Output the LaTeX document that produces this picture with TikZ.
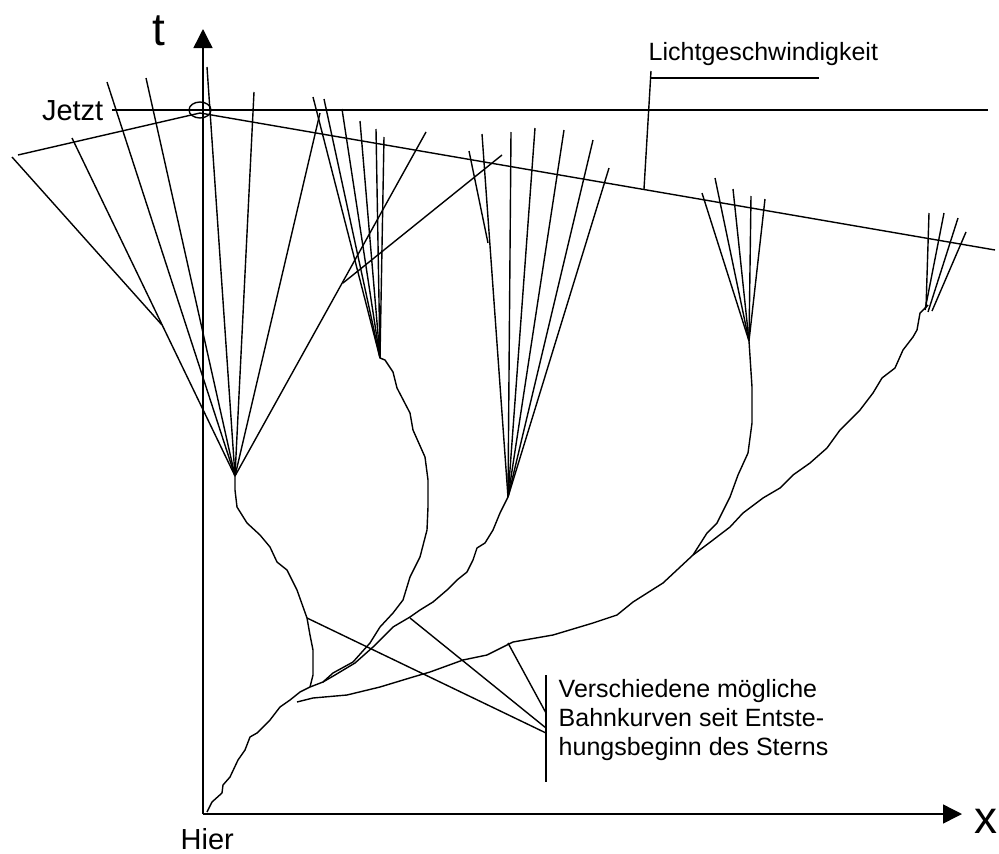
\documentclass[tikz,border=0pt]{standalone}
\usepackage{fontspec}
\setmainfont{Liberation Sans}
\usetikzlibrary{arrows.meta}
\begin{document}
\begin{tikzpicture}[x=1pt,y=-1pt,line width=1.4pt,line join=round,
  lbl/.style={font=\fontsize{25}{29}\selectfont,inner sep=0pt},
  mid/.style={font=\fontsize{29}{33}\selectfont,inner sep=0pt},
  big/.style={font=\fontsize{46}{50}\selectfont,inner sep=0pt},
  axis/.style={-{Triangle[length=19pt,width=19pt]}},
  traj/.style={line width=1.4pt},
  ray/.style={line width=1.4pt}]
\useasboundingbox (0,0) rectangle (999,854);
% axes
\coordinate (o) at (203,814);
\coordinate (ttip) at (203,29);
\coordinate (xtip) at (962,814);
\draw[axis] (o) -- (ttip);
\draw[axis] (o) -- (xtip);
\node[big,anchor=base] (tlab) at (159,45) {t};
\node[big,anchor=base] (xlab) at (986,833) {x};
\node[mid,anchor=base west] (hier) at (180,849) {Hier};
% now line
\coordinate (jl) at (112,110);
\coordinate (jr) at (988,110);
\draw (jl) -- (jr);
\node[mid,anchor=base east] (jetzt) at (104,120) {Jetzt};
\draw (200,110) ellipse [x radius=11,y radius=8];
% light cone
\coordinate (now) at (200,113);
\coordinate (cl) at (18,155);
\coordinate (cr) at (995,250);
\draw (cl) -- (now) -- (cr);
% Lichtgeschwindigkeit
\node[lbl,anchor=base west] (licht) at (648,60) {Lichtgeschwindigkeit};
\coordinate (lc1) at (651,71);
\coordinate (lc2) at (644,189);
\coordinate (lh1) at (651,78);
\coordinate (lh2) at (819,78);
\draw (lc1) -- (lc2);
\draw (lh1) -- (lh2);
% fans
\coordinate (F1) at (235,476);
\coordinate (F2) at (380,358);
\coordinate (F3) at (508,497);
\coordinate (F4) at (749,341);
\coordinate (F5) at (928,305);
\foreach \p in {(72,138),(107,82),(146,78),(207,67),(254,92),(320,113),(426,132)}
  \draw[ray] \p -- (F1);
\draw[ray] (12,157) -- (162,325);
\draw[ray] (502,155) -- (343,283);
\foreach \p in {(313,97),(324,99),(342,109),(360,121),(376,129),(384,137)}
  \draw[ray] \p -- (F2);
\foreach \p in {(482,134),(511,132),(535,128),(564,130),(593,140),(609,168)}
  \draw[ray] \p -- (F3);
\draw[ray] (469,151) -- (488,243);
\foreach \p in {(702,193),(715,178),(733,189),(751,196),(765,199)}
  \draw[ray] \p -- (F4);
\draw[ray] (929,213) -- (926,308);
\draw[ray] (944,213) -- (925,310);
\draw[ray] (958,218) -- (928,312);
\draw[ray] (966,232) -- (932,311);
% trajectories
\draw[traj] (207,812) -- (212,802) -- (222,793) -- (223,785) -- (230,777) -- (238,760) -- (245,750) -- (250,737) -- (257,733) -- (270,720) -- (280,707) -- (290,700) -- (300,692) -- (310,687);
\draw[traj] (310,687) -- (313,675) -- (313,650) -- (310,635) -- (307,618) -- (297,590) -- (287,570) -- (277,562) -- (270,547) -- (260,535) -- (247,523) -- (237,507) -- (235,490) -- (F1);
\draw[traj] (310,687) -- (323,682) -- (333,673) -- (353,662) -- (370,643) -- (380,627) -- (393,613) -- (403,600) -- (410,577) -- (420,557) -- (427,530) -- (428,507) -- (428,480) -- (425,457) -- (413,430) -- (410,413) -- (397,388) -- (393,372) -- (385,360) -- (F2);
\draw[traj] (323,682) -- (335,675) -- (355,663) -- (373,647) -- (383,637) -- (393,627) -- (410,617) -- (420,610) -- (433,602) -- (447,590) -- (457,580) -- (467,572) -- (473,560) -- (477,548) -- (485,543) -- (493,530) -- (500,513) -- (F3);
\draw[traj] (297,702) -- (313,698) -- (347,695) -- (380,687) -- (413,677) -- (430,672) -- (463,660) -- (487,655) -- (513,642) -- (553,635) -- (593,623) -- (617,615) -- (633,602) -- (663,583) -- (693,555);
\draw[traj] (693,555) -- (707,533) -- (717,523) -- (730,497) -- (738,475) -- (748,453) -- (752,423) -- (752,387) -- (F4);
\draw[traj] (693,555) -- (713,540) -- (730,527) -- (743,513) -- (763,498) -- (780,488) -- (793,475) -- (810,463) -- (827,448) -- (840,430) -- (860,410) -- (873,393) -- (882,378) -- (895,368) -- (903,350) -- (913,337) -- (917,330) -- (920,313) -- (F5);
% annotation
\coordinate (a1) at (307,618);
\coordinate (a2) at (410,618);
\coordinate (a3) at (508,643);
\coordinate (b1) at (546,733);
\coordinate (b2) at (546,728);
\coordinate (b3) at (546,713);
\draw (a1) -- (b1);
\draw (a2) -- (b2);
\draw (a3) -- (b3);
\coordinate (bt) at (546,675);
\coordinate (bb) at (546,782);
\draw (bt) -- (bb);
\node[lbl,anchor=base west] (v1) at (558,697) {Verschiedene mögliche};
\node[lbl,anchor=base west] (v2) at (558,726) {Bahnkurven seit Entste-};
\node[lbl,anchor=base west] (v3) at (558,755) {hungsbeginn des Sterns};
\end{tikzpicture}
\end{document}
